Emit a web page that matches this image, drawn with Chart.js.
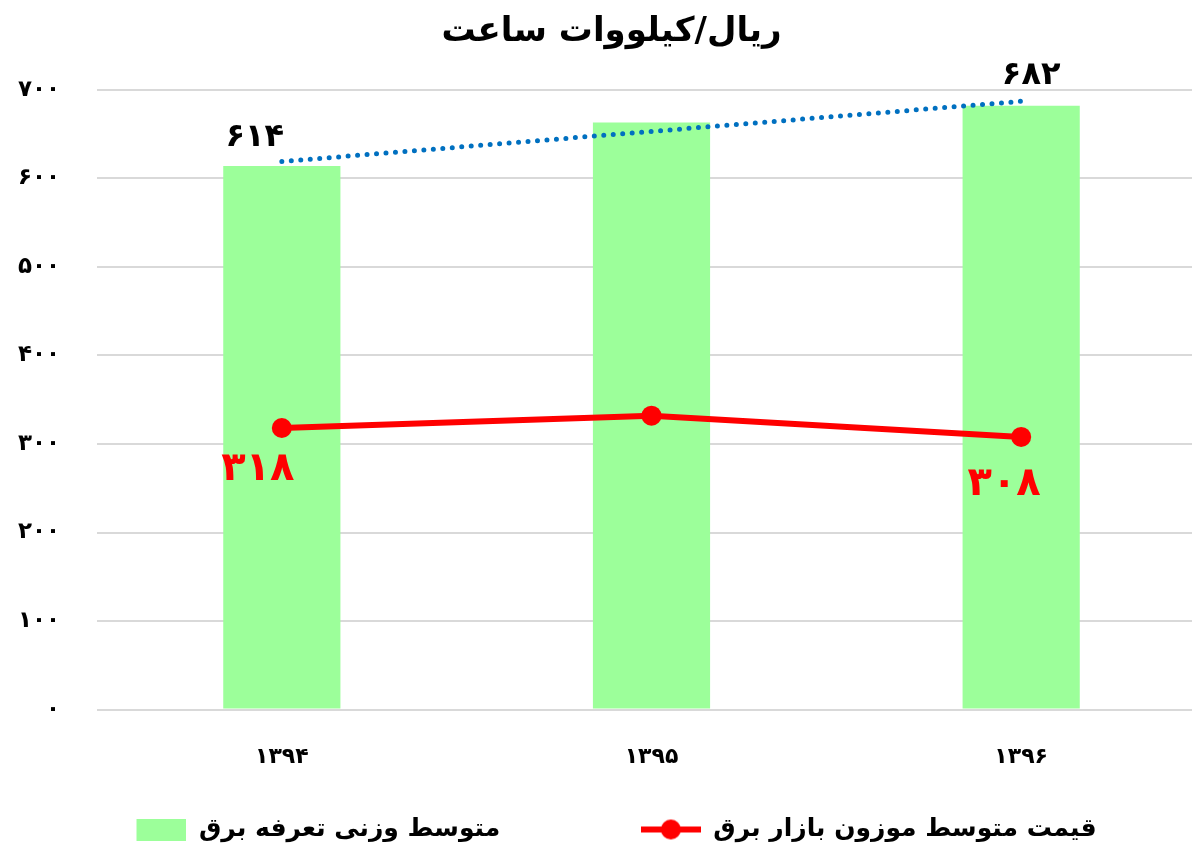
<!DOCTYPE html>
<html>
<head>
<meta charset="utf-8">
<script src="https://cdn.jsdelivr.net/npm/chart.js@4.4.0/dist/chart.umd.min.js"></script>
<style>
  html,body{margin:0;padding:0;background:#fff;overflow:hidden;}
  #wrap{width:1240px;height:849px;}
</style>
</head>
<body>
<div id="wrap"><canvas id="myChart" width="1240" height="849"></canvas></div>
<script>
// chart values
const years=["1394","1395","1396"];
const tariffAvg=[614,663,682];      // متوسط وزنی تعرفه برق
const marketPrice=[318,332,308];    // قیمت متوسط موزون بازار برق
const tariffTrend=[619,653,687];    // dotted trend over the bars
const yTicks=[0,100,200,300,400,500,600,700];

const FONT="'DejaVu Sans', sans-serif";

const faDigits=(v)=>String(v).replace(/[0-9]/g,(d)=>"۰۱۲۳۴۵۶۷۸۹"[d]);

// legend swatches
const makeSwatch=(w,h,draw)=>{
    var c=document.createElement("canvas");
    c.width=w;c.height=h;
    draw(c.getContext("2d"),w,h);
    return c;
};
const greenBox=makeSwatch(60,22,(g,w,h)=>{g.fillStyle="#9cff9a";g.fillRect(10,0,50,h);});
const redLine=makeSwatch(60,22,(g,w,h)=>{
    g.strokeStyle="#ff0000";g.lineWidth=6;
    g.beginPath();g.moveTo(0,h/2);g.lineTo(w,h/2);g.stroke();
    g.fillStyle="#ff0000";g.beginPath();g.arc(w/2,h/2,10,0,Math.PI*2);g.fill();
});

// value labels next to chosen points
const valueLabels={
    id:"valueLabels",
    afterDatasetsDraw(chart){
        var ctx=chart.ctx;
        var items=[
            {ds:0,i:0,dx:-27,dy:-28,color:"#000",size:32,text:tariffAvg[0]},
            {ds:0,i:2,dx:10,dy:-30,color:"#000",size:32,text:tariffAvg[2]},
            {ds:1,i:0,dx:-24,dy:42,color:"#ff0000",size:40,text:marketPrice[0]},
            {ds:1,i:2,dx:-17,dy:48,color:"#ff0000",size:40,text:marketPrice[2]},
        ];
        ctx.save();
        ctx.textAlign="center";
        ctx.textBaseline="middle";
        items.forEach((it)=>{
            var el=chart.getDatasetMeta(it.ds).data[it.i];
            ctx.font="bold "+it.size+"px "+FONT;
            ctx.fillStyle=it.color;
            ctx.fillText(faDigits(it.text),el.x+it.dx,el.y+it.dy);
        });
        ctx.restore();
    }
};

var ctx=document.getElementById("myChart").getContext("2d");
var myChart=new Chart(ctx,{
    data:{
        labels:years.map(faDigits),
        datasets:[
            {
                type:"bar",
                label:"متوسط وزنی تعرفه برق",
                data:tariffAvg,
                backgroundColor:"#9cff9a",
                categoryPercentage:1,
                barPercentage:0.317,
                order:3,
            },
            {
                type:"line",
                label:"قیمت متوسط موزون بازار برق",
                data:marketPrice,
                borderColor:"#ff0000",
                backgroundColor:"#ff0000",
                borderWidth:6,
                pointRadius:10,
                pointHoverRadius:10,
                pointBorderWidth:0,
                tension:0,
                order:1,
            },
            {
                type:"line",
                label:"trend",
                data:tariffTrend,
                borderColor:"#0070c0",
                borderWidth:5,
                borderDash:[0,9.5],
                borderCapStyle:"round",
                pointRadius:0,
                tension:0,
                order:2,
            },
        ],
    },
    options:{
        responsive:false,
        animation:false,
        layout:{padding:{left:17,right:34,top:12,bottom:-3}},
        plugins:{
            title:{
                display:true,
                text:"ریال/کیلووات ساعت",
                color:"#000",
                font:{family:FONT,size:34,weight:"bold"},
                padding:{top:0,bottom:37},
            },
            legend:{
                position:"bottom",
                labels:{
                    usePointStyle:true,
                    pointStyleWidth:60,
                    color:"#000",
                    font:{family:FONT,size:25,weight:"bold"},
                    padding:10,
                    generateLabels:(chart)=>{
                        var ds=chart.data.datasets;
                        return [
                            // trailing spaces keep the wide gap between the two entries
                            {text:ds[0].label+"               ",pointStyle:greenBox,datasetIndex:0,fillStyle:"#9cff9a",strokeStyle:"#9cff9a",lineWidth:0},
                            {text:ds[1].label,pointStyle:redLine,datasetIndex:1,fillStyle:"#ff0000",strokeStyle:"#ff0000",lineWidth:0},
                        ];
                    },
                },
            },
            tooltip:{enabled:false},
        },
        scales:{
            x:{
                grid:{display:false},
                border:{display:false},
                afterFit:(axis)=>{axis.height+=11;},
                ticks:{color:"#000",font:{family:FONT,size:22,weight:"bold"},padding:26},
            },
            y:{
                min:0,
                max:700,
                afterBuildTicks:(axis)=>{axis.ticks=yTicks.map((v)=>({value:v}));},
                afterFit:(axis)=>{axis.width=80;},
                grid:{color:"#d9d9d9",lineWidth:2,drawTicks:false},
                border:{display:false},
                ticks:{
                    color:"#000",
                    font:{family:FONT,size:23,weight:"bold"},
                    padding:37,
                    callback:(v)=>faDigits(v),
                },
            },
        },
    },
    plugins:[valueLabels],
});
</script>
</body>
</html>
